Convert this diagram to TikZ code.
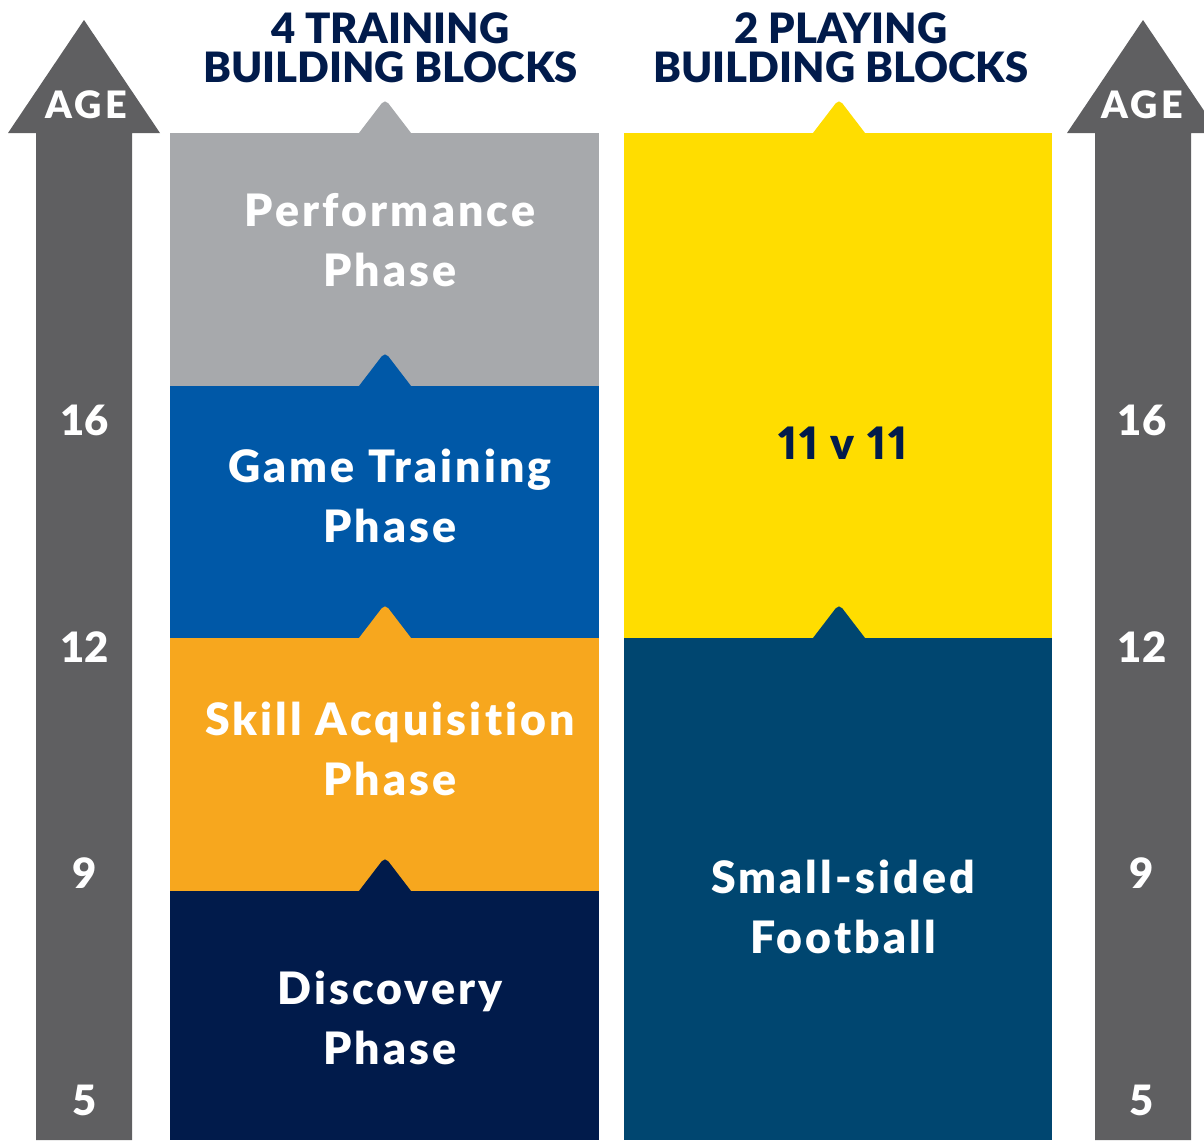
\documentclass[tikz,border=0pt]{standalone}
\usepackage{fontspec}
\setmainfont{Lato}[BoldFont={Lato Black}, Ligatures=NoCommon]
\definecolor{gris}{HTML}{A7A9AC}
\definecolor{azul}{HTML}{0058A7}
\definecolor{naranja}{HTML}{F7A71E}
\definecolor{marino}{HTML}{011B4B}
\definecolor{amarillo}{HTML}{FFDD00}
\definecolor{petroleo}{HTML}{004670}
\definecolor{grisedad}{HTML}{5F5F61}
\begin{document}
\begin{tikzpicture}[x=0.02cm, y=-0.02cm,
        fase/.style={text=white, align=center, font=\fontsize{25.4}{34.1}\selectfont\bfseries\addfontfeature{LetterSpace=7}},
        titulo/.style={text=marino, align=center, font=\fontsize{23.8}{22.2}\selectfont\bfseries},
        edad/.style={text=white, anchor=base, font=\fontsize{23.8}{24}\selectfont\bfseries},
        rotulo/.style={text=white, anchor=base, font=\fontsize{21.5}{22}\selectfont\bfseries\addfontfeature{LetterSpace=9}},
        flecha/.style={fill=grisedad}
    ]
        \useasboundingbox (0,0) rectangle (1204,1140);
        \clip (0,0) rectangle (1204,1140);
        % flechas de edad
        \fill[flecha] (36,1140) -- (36,133) -- (8,133) -- (84,20) -- (160,133) -- (132,133) -- (132,1140) -- cycle;
        \fill[flecha] (1095,1140) -- (1095,133) -- (1067,133) -- (1143,20) -- (1219,133) -- (1191,133) -- (1191,1140) -- cycle;
        % bloques de entrenamiento
        \foreach \col/\arriba/\abajo in {gris/133/386, azul/386/638, naranja/638/891, marino/891/1140}{
            \fill[\col] (170,\arriba) rectangle (599,\abajo);
            \fill[\col, rounded corners=3pt] (353.6,\arriba+7) -- (385,\arriba-34) -- (416.4,\arriba+7) -- cycle;
        }
        % bloques de juego
        \foreach \col/\arriba/\abajo in {amarillo/133/638, petroleo/638/1140}{
            \fill[\col] (624,\arriba) rectangle (1052,\abajo);
            \fill[\col, rounded corners=3pt] (807.6,\arriba+7) -- (839,\arriba-34) -- (870.4,\arriba+7) -- cycle;
        }
        \node[titulo] (tentreno) at (390.5,47.5) {4 TRAINING\\BUILDING BLOCKS};
        \node[titulo] (tjuego) at (841,47.5) {2 PLAYING\\BUILDING BLOCKS};
        \node[fase] (rend) at (390,240) {Performance\\Phase};
        \node[fase] (entreno) at (390,496) {Game Training\\Phase};
        \node[fase] (habil) at (390,748.5) {Skill Acquisition\\Phase};
        \node[fase] (descub) at (390,1017.5) {Discovery\\Phase};
        \node[fase, text=marino, anchor=base, font=\fontsize{25.4}{34.1}\selectfont\bfseries\addfontfeature{Numbers=Proportional, LetterSpace=5}] (once) at (843,459) {11 v 11};
        \node[fase] (reducido) at (843,906.5) {Small-sided\\Football};
        \node[rotulo] (edadi) at (86,118) {AGE};
        \node[rotulo] (edadd) at (1142,118) {AGE};
        \foreach \n/\y in {16/435, 12/662, 9/888, 5/1115}{
            \node[edad] (izq\n) at (84.5,\y) {\n};
            \node[edad] (der\n) at (1142,\y) {\n};
        }
    \end{tikzpicture}
\end{document}
